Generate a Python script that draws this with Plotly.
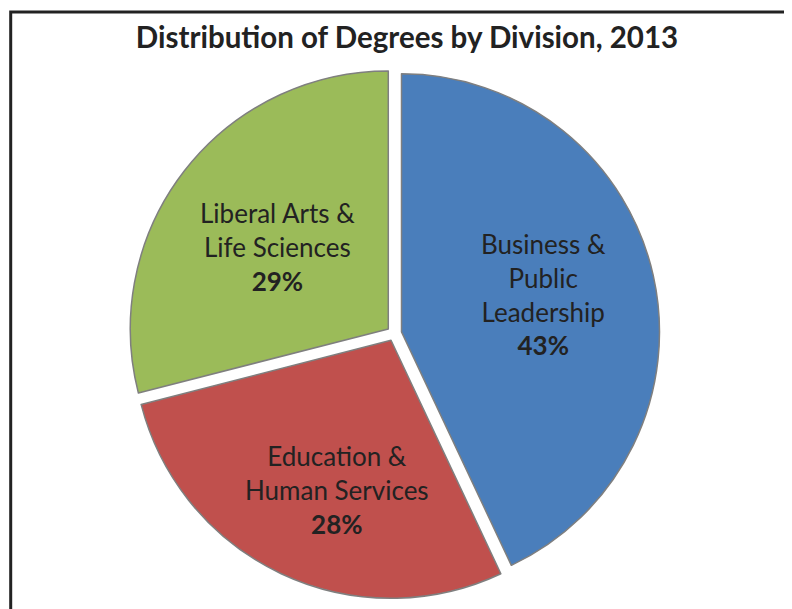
import plotly.graph_objects as go

# data, clockwise from 12 o'clock
divisions = ["Business &<br>Public<br>Leadership", "Education &<br>Human Services", "Liberal Arts &<br>Life Sciences"]
shares = [43, 28, 29]
colors = ["#4A7EBB", "#C0504D", "#9BBB59"]

# page is 792x609 but the browser puts the figure 8px in from the top-left
OFF = 8
W, H = 792 - OFF, 609 - OFF
FONT = "Lato, 'Open Sans', sans-serif"

# pie geometry in page pixels
CX, CY, R = 394.2, 333.5, 258.0
PULL = 0.029
# centre of each in-slice label, page pixels (same order as the data)
label_xy = [(543, 294), (337, 490), (277, 247)]


def px_x(x):
    return (x - OFF) / W


def px_y(y):
    return 1 - (y - OFF) / H


half = R * (1 + PULL)

fig = go.Figure(
    go.Pie(
        labels=divisions,
        values=shares,
        textinfo="none",
        sort=False,
        direction="clockwise",
        rotation=0,
        pull=[PULL] * len(shares),
        marker=dict(colors=colors, line=dict(color="#7F7F7F", width=1.5)),
        domain=dict(x=[px_x(CX - half), px_x(CX + half)], y=[px_y(CY + half), px_y(CY - half)]),
        showlegend=False,
        hoverinfo="label+percent",
    )
)

for name, share, (lx, ly) in zip(divisions, shares, label_xy):
    fig.add_annotation(
        text=f"{name}<br><b>{share}%</b>",
        xref="paper", yref="paper",
        x=px_x(lx), y=px_y(ly),
        xanchor="center", yanchor="middle",
        showarrow=False,
        align="center",
        font=dict(family=FONT, size=26, color="#222222"),
    )

# chart frame (cropped at right and bottom in the original)
fig.add_shape(
    type="rect", xref="paper", yref="paper",
    x0=px_x(10.7), y0=-0.05, x1=1.05, y1=px_y(12),
    line=dict(color="#222222", width=3),
)

fig.update_layout(
    width=W,
    height=H,
    margin=dict(l=0, r=0, t=0, b=0),
    paper_bgcolor="white",
    plot_bgcolor="white",
    title=dict(
        text="<b>Distribution of Degrees by Division, 2013</b>",
        x=px_x(407),
        xanchor="center",
        y=px_y(38),
        yanchor="middle",
        font=dict(family=FONT, size=29.5, color="#222222"),
    ),
    font=dict(family=FONT),
)

fig.write_html("out.html")
